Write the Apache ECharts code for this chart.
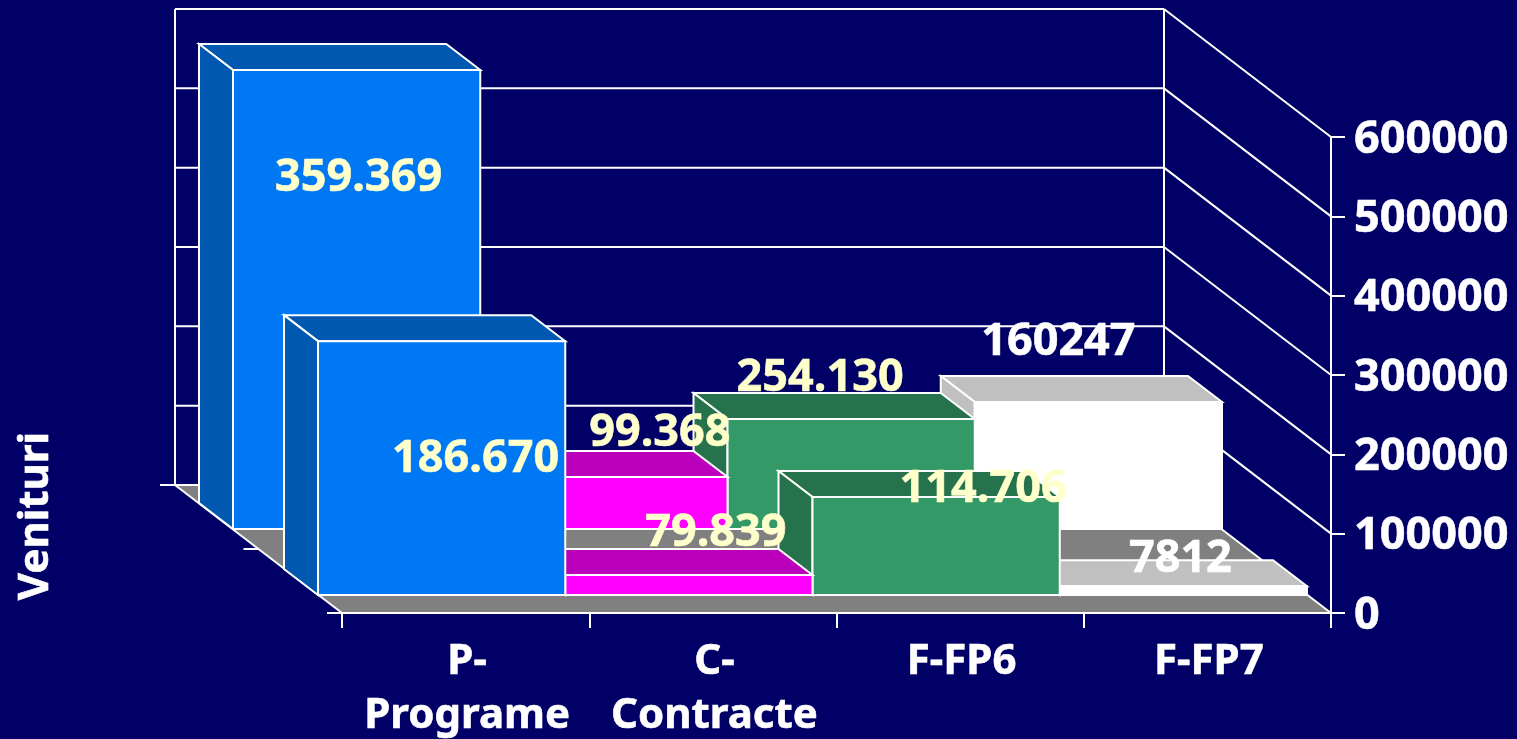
<!DOCTYPE html>
<html>
<head>
<meta charset="utf-8">
<style>html,body{margin:0;padding:0;background:#000066;overflow:hidden}#c{width:1517px;height:739px}</style>
<script src="https://cdn.jsdelivr.net/npm/echarts@6/dist/echarts.min.js"></script>
</head>
<body>
<div id="c"></div>
<script>
// ---- data ----
const categories = ['P-\nPrograme', 'C-\nContracte', 'F-FP6', 'F-FP7'];
const yTicks = [0, 100000, 200000, 300000, 400000, 500000, 600000];
const backValues = [578600, 65500, 138700, 160100];
const frontValues = [320000, 25200, 123500, 11000];
const backLabels = ['359.369', '99.368', '254.130', '160247'];
const frontLabels = ['186.670', '79.839', '114.706', '7812'];
const faceColors = ['#0077F3', '#FF00FF', '#339966', '#FFFFFF'];
const shadeColors = ['#0058B0', '#BB00BB', '#26724C', '#C0C0C0'];
const backLabelColors = ['#FFFFCC', '#FFFFCC', '#FFFFCC', '#FFFFFF'];
const frontLabelColors = ['#FFFFCC', '#FFFFCC', '#FFFFCC', '#FFFFFF'];
const backNudge = [[2, 108], [56, -44], [-31, -41], [-40, -60]];
const frontNudge = [[34, 118], [27, -42], [47, -8], [-3, -27]];

// ---- projection of the fake 3D depth (screen px per depth stop) ----
const WALL = [-167, -128];
const BACK = { near: [-109, -84], far: [-143, -110] };
const FRONT = { near: [-24, -18], far: [-58, -44] };
const FONT = '"Noto Sans", sans-serif';
const BG = '#000066', LINE = '#FFFFFF';

const chart = echarts.init(document.getElementById('c'), null, { renderer: 'canvas' });

const poly = (pts, fill, lw, z2) => ({
  type: 'polygon', shape: { points: pts },
  style: { fill: fill, stroke: LINE, lineWidth: lw, lineJoin: 'miter' }, z2: z2 || 0
});
const seg = (a, b, lw) => ({
  type: 'line', shape: { x1: a[0], y1: a[1], x2: b[0], y2: b[1] },
  style: { stroke: LINE, lineWidth: lw || 2, fill: null }
});
const add = (p, o) => [p[0] + o[0], p[1] + o[1]];

function renderFrame(params, api) {
  const x0 = api.coord([0, 0])[0] - api.size([1, 0])[0] / 2;
  const x1 = api.coord([categories.length - 1, 0])[0] + api.size([1, 0])[0] / 2;
  const kids = [];
  const L = [x0, api.coord([0, 0])[1]], R = [x1, L[1]];
  // floor
  kids.push({ type: 'polygon', shape: { points: [add(L, WALL), add(R, WALL), R, L] }, style: { fill: '#808080', stroke: null } });
  // grid lines on back wall and side wall
  yTicks.forEach(t => {
    const f = [x1, api.coord([0, t])[1]];
    const b = add(f, WALL);
    kids.push(seg([add(L, WALL)[0], b[1]], b));
    kids.push(seg(b, f));
  });
  const tl = add([x0, api.coord([0, yTicks[yTicks.length - 1]])[1]], WALL);
  kids.push(seg(add(L, WALL), tl));
  kids.push(seg(add(R, WALL), [add(R, WALL)[0], tl[1]]));
  // floor edges and depth axis with its ticks
  kids.push(seg(add(L, WALL), L));
  kids.push(seg(L, R));
  [1, 0.5, 0].forEach(k => {
    const p = [L[0] + WALL[0] * k, L[1] + WALL[1] * k];
    kids.push(seg([p[0] - 15, p[1]], p));
  });
  return { type: 'group', children: kids };
}

function renderBar(depth) {
  return function (params, api) {
    const i = api.value(0), v = api.value(1);
    const w = api.size([1, 0])[0];
    const cx = api.coord([i, 0])[0];
    const y0 = api.coord([i, 0])[1], yv = api.coord([i, v])[1];
    const bl = [cx - w / 2, y0], br = [cx + w / 2, y0], tl = [cx - w / 2, yv], tr = [cx + w / 2, yv];
    const n = depth.near, f = depth.far;
    const face = faceColors[i], shade = shadeColors[i];
    return {
      type: 'group',
      children: [
        poly([add(tl, f), add(tr, f), add(tr, n), add(tl, n)], shade, 2),
        poly([add(tl, f), add(tl, n), add(bl, n), add(bl, f)], shade, 2),
        poly([add(tl, n), add(tr, n), add(br, n), add(bl, n)], face, 2)
      ]
    };
  };
}

function renderLabel(depth, texts, colors, nudges) {
  return function (params, api) {
    const i = api.value(0), v = api.value(1);
    const p = add(add(api.coord([i, v]), depth.near), nudges[i]);
    return {
      type: 'text', x: p[0], y: p[1],
      style: {
        text: texts[i], fill: colors[i], stroke: colors[i], lineWidth: 0.6,
        font: 'bold 45px ' + FONT, align: 'center', verticalAlign: 'middle'
      }
    };
  };
}

// painter's order: each row drawn right to left, since left faces show
const rowData = vals => vals.map((v, i) => [i, v]).reverse();
const custom = (name, data, fn, z) => ({
  type: 'custom', name, data, renderItem: fn, z, silent: true, clip: false,
  encode: { x: 0, y: 1 }
});

chart.setOption({
  backgroundColor: BG,
  animation: false,
  tooltip: { show: false },
  grid: { left: 342, right: 186, top: 137, bottom: 126, containLabel: false, outerBoundsMode: 'none' },
  xAxis: {
    type: 'category', data: categories, boundaryGap: true,
    axisLine: { show: false },
    axisTick: { show: true, length: 15, lineStyle: { color: LINE, width: 2 } },
    axisLabel: {
      color: LINE, fontFamily: FONT, fontWeight: 'bold', fontSize: 42, lineHeight: 54, margin: 22,
      interval: 0, padding: [0, 0, 0, 3], textBorderColor: LINE, textBorderWidth: 0.6
    },
    splitLine: { show: false }
  },
  yAxis: {
    type: 'value', position: 'right', min: 0, max: 600000, interval: 100000,
    axisLine: { show: true, lineStyle: { color: LINE, width: 2 } },
    axisTick: { show: true, length: 14, lineStyle: { color: LINE, width: 2 } },
    axisLabel: {
      margin: 23, formatter: v => '{t|' + v + '}',
      rich: {
        t: {
          color: LINE, fontFamily: FONT, fontWeight: 'bold', fontSize: 45,
          padding: [6, 0, 0, 0], textBorderColor: LINE, textBorderWidth: 0.6
        }
      }
    },
    splitLine: { show: false }
  },
  graphic: [{
    type: 'text', x: 36, y: 516, rotation: Math.PI / 2, z: 10,
    style: { text: 'Venituri', fill: LINE, stroke: LINE, lineWidth: 0.6, font: 'bold 42px ' + FONT, align: 'center', verticalAlign: 'middle' }
  }],
  series: [
    custom('frame', [[0, 0]], renderFrame, 1),
    custom('back', rowData(backValues), renderBar(BACK), 2),
    custom('front', rowData(frontValues), renderBar(FRONT), 3),
    custom('backLabels', rowData(backValues), renderLabel(BACK, backLabels, backLabelColors, backNudge), 4),
    custom('frontLabels', rowData(frontValues), renderLabel(FRONT, frontLabels, frontLabelColors, frontNudge), 4)
  ]
});
</script>
</body>
</html>
